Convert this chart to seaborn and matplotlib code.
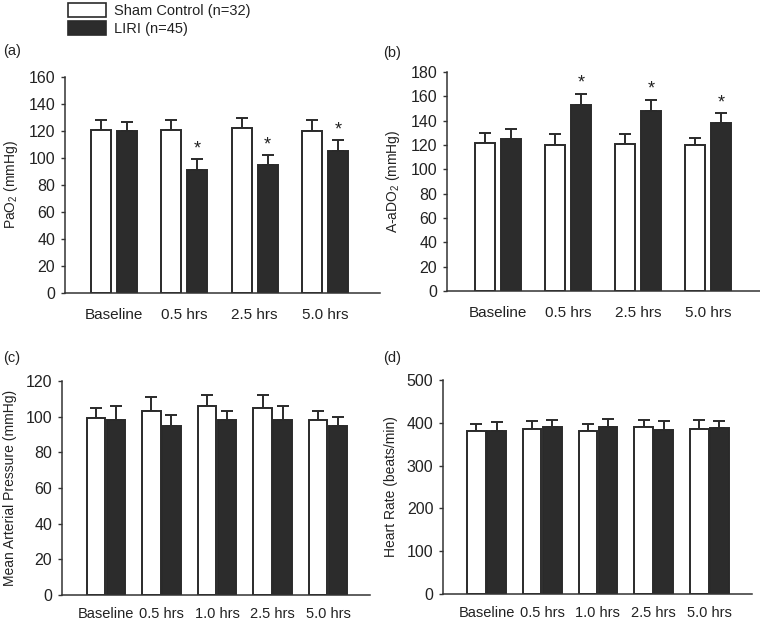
import numpy as np
import pandas as pd
import matplotlib
matplotlib.use("Agg")
import matplotlib.pyplot as plt
import seaborn as sns
from matplotlib.patches import Patch

sns.set_theme(style="white")
plt.rcParams['font.family'] = ['Liberation Sans', 'DejaVu Sans']
plt.rcParams['mathtext.fontset'] = 'custom'
plt.rcParams['mathtext.rm'] = 'Liberation Sans'
plt.rcParams['mathtext.it'] = 'Liberation Sans'

groups = ["Sham Control (n=32)", "LIRI (n=45)"]

# Panel (a) PaO2
cats_a = ["Baseline", "0.5 hrs", "2.5 hrs", "5.0 hrs"]
sham_a = [121, 121, 122, 120]
sham_a_err = [7, 7, 8, 8]
liri_a = [120, 91, 95, 105]
liri_a_err = [7, 8, 7, 8]
sig_a = [False, True, True, True]

# Panel (b) A-aDO2
cats_b = ["Baseline", "0.5 hrs", "2.5 hrs", "5.0 hrs"]
sham_b = [122, 120, 121, 120]
sham_b_err = [8, 9, 8, 6]
liri_b = [125, 153, 148, 138]
liri_b_err = [8, 9, 9, 8]
sig_b = [False, True, True, True]

# Panel (c) Mean arterial pressure
cats_c = ["Baseline", "0.5 hrs", "1.0 hrs", "2.5 hrs", "5.0 hrs"]
sham_c = [99, 103, 106, 105, 98]
sham_c_err = [6, 8, 6, 7, 5]
liri_c = [98, 95, 98, 98, 95]
liri_c_err = [8, 6, 5, 8, 5]
sig_c = [False] * 5

# Panel (d) Heart rate
cats_d = ["Baseline", "0.5 hrs", "1.0 hrs", "2.5 hrs", "5.0 hrs"]
sham_d = [380, 385, 380, 390, 385]
sham_d_err = [17, 20, 18, 17, 21]
liri_d = [380, 390, 390, 383, 387]
liri_d_err = [22, 17, 19, 21, 18]
sig_d = [False] * 5

WHITE = "#ffffff"
DARK = "#2c2c2c"
EDGE = "#2a2a2a"
TXT = "#222222"

fig = plt.figure(figsize=(7.6, 6.2), dpi=100)

panels = [
    dict(rect=[0.0855, 0.5274, 0.415, 0.3484], cats=cats_a, s=sham_a, se=sham_a_err,
         l=liri_a, le=liri_a_err, sig=sig_a, ylab="PaO$_2$ (mmHg)", ymax=160, step=20,
         xlim=(-0.70, 3.79), width=0.743, gap=0.23, lab="(a)", labpos=(0.004, 0.906),
         xpad=4.5, xsize=11),
    dict(rect=[0.588, 0.5306, 0.412, 0.3532], cats=cats_b, s=sham_b, se=sham_b_err,
         l=liri_b, le=liri_b_err, sig=sig_b, ylab="A-aDO$_2$ (mmHg)", ymax=180, step=20,
         xlim=(-0.73, 3.74), width=0.743, gap=0.23, lab="(b)", labpos=(0.504, 0.904),
         xpad=4.5, xsize=11),
    dict(rect=[0.0816, 0.0403, 0.405, 0.3452], cats=cats_c, s=sham_c, se=sham_c_err,
         l=liri_c, le=liri_c_err, sig=sig_c, ylab="Mean Arterial Pressure (mmHg)", ymax=120, step=20,
         xlim=(-0.79, 4.75), width=0.72, gap=0.07, lab="(c)", labpos=(0.004, 0.412),
         xpad=2.5, xsize=10.5),
    dict(rect=[0.583, 0.0419, 0.4066, 0.3452], cats=cats_d, s=sham_d, se=sham_d_err,
         l=liri_d, le=liri_d_err, sig=sig_d, ylab="Heart Rate (beats/min)", ymax=500, step=100,
         xlim=(-0.78, 4.77), width=0.72, gap=0.07, lab="(d)", labpos=(0.504, 0.412),
         xpad=2.5, xsize=10.5),
]

for p in panels:
    ax = fig.add_axes(p["rect"])
    n = len(p["cats"])
    df = pd.DataFrame({
        "time": list(p["cats"]) * 2,
        "group": [groups[0]] * n + [groups[1]] * n,
        "value": list(p["s"]) + list(p["l"]),
    })
    sns.barplot(data=df, x="time", y="value", hue="group", order=p["cats"],
                hue_order=groups, palette=[WHITE, DARK], edgecolor=EDGE,
                linewidth=1.4, width=p["width"], gap=p["gap"], errorbar=None,
                legend=False, ax=ax, zorder=2)
    errs = list(p["se"]) + list(p["le"])
    vals = list(p["s"]) + list(p["l"])
    sigs = [False] * n + list(p["sig"])
    bars = [b for b in ax.patches]
    for b, v, e, sg in zip(bars, vals, errs, sigs):
        xc = b.get_x() + b.get_width() / 2
        ax.errorbar([xc], [v], yerr=[[0], [e]], fmt="none", ecolor=EDGE,
                    elinewidth=1.4, capsize=4, capthick=1.4, zorder=1)
        if sg:
            ax.text(xc, v + e + p["ymax"] * 0.01, "*", ha="center", va="bottom",
                    fontsize=13, color=TXT)
    ax.set_ylim(0, p["ymax"])
    ax.set_xlim(*p["xlim"])
    ax.set_yticks(np.arange(0, p["ymax"] + 1, p["step"]))
    ax.set_xlabel("")
    ax.set_ylabel(p["ylab"], fontsize=10, color=TXT, labelpad=6)
    for sp in ["top", "right"]:
        ax.spines[sp].set_visible(False)
    for sp in ["left", "bottom"]:
        ax.spines[sp].set_color("#333333")
        ax.spines[sp].set_linewidth(1.1)
    ax.tick_params(axis="y", left=True, length=3, width=1, pad=4, labelsize=11.5,
                   colors="#333333", labelcolor=TXT)
    ax.tick_params(axis="x", bottom=False, pad=p["xpad"], labelsize=p["xsize"],
                   labelcolor=TXT)
    ax.set_facecolor("white")
    fig.text(p["labpos"][0], p["labpos"][1], p["lab"], fontsize=10.5, color=TXT,
             ha="left", va="bottom")

handles = [Patch(facecolor=WHITE, edgecolor=EDGE, linewidth=1.2, label=groups[0]),
           Patch(facecolor=DARK, edgecolor=EDGE, linewidth=1.2, label=groups[1])]
fig.legend(handles=handles, loc="upper left", bbox_to_anchor=(0.088, 0.998),
           frameon=False, fontsize=10.5, handlelength=2.6, handleheight=1.1,
           handletextpad=0.5, labelspacing=0.25, borderaxespad=0, borderpad=0.1,
           labelcolor=TXT)

fig.savefig("out.png", dpi=100, facecolor="white")
